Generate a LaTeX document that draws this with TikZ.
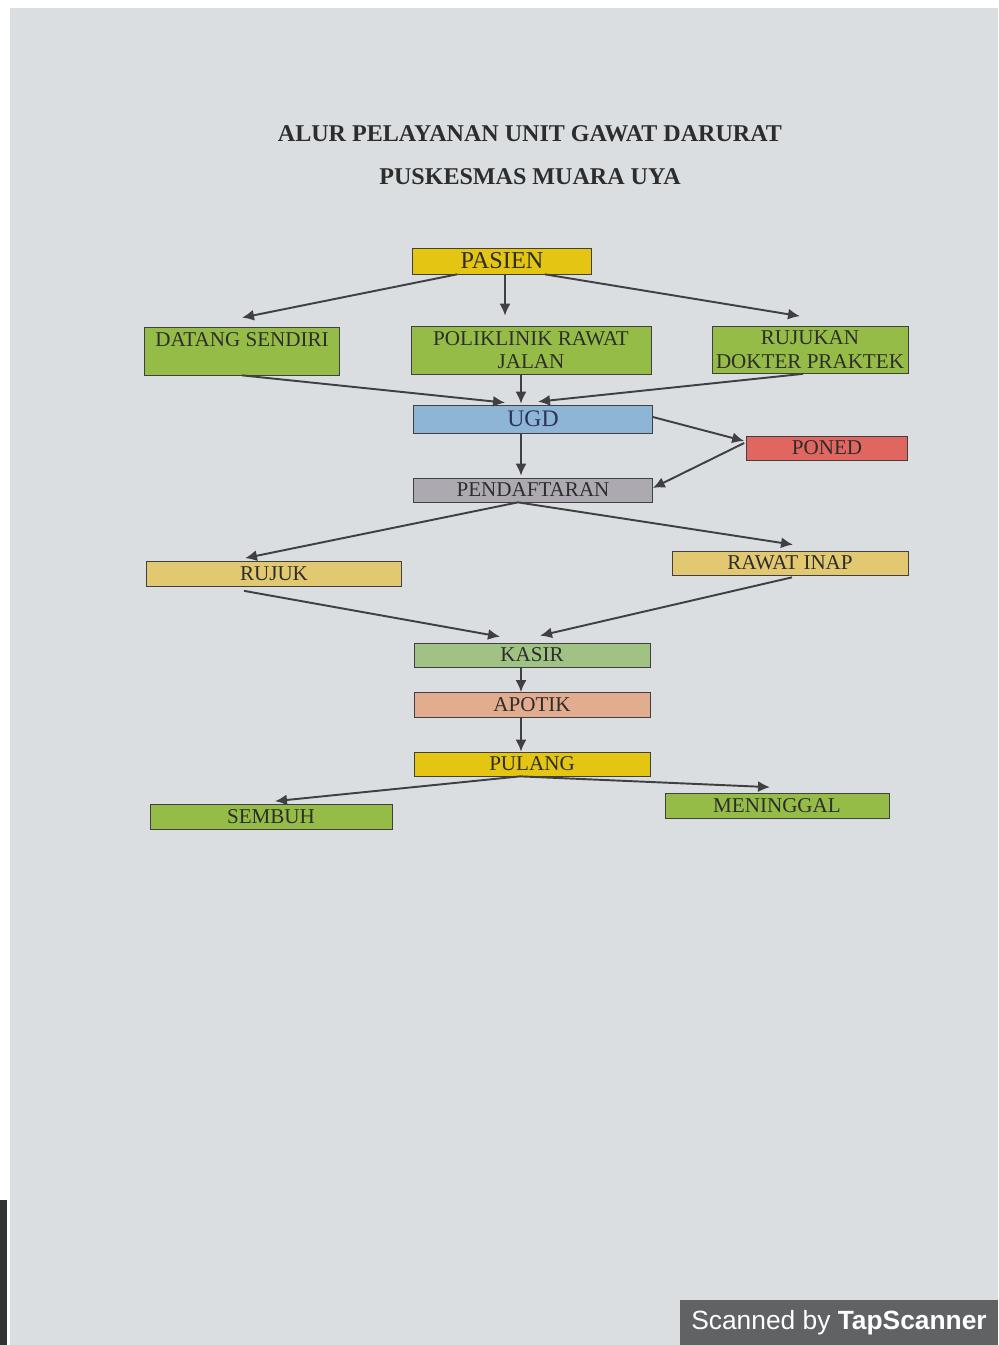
\documentclass[tikz,border=0pt]{standalone}
\usepackage{fontspec}
\setmainfont{Liberation Serif}
\setsansfont{Liberation Sans}
\usepackage{tikz}
\usetikzlibrary{arrows.meta,positioning}

\definecolor{paper}{RGB}{218,222,225}
\definecolor{ink}{RGB}{45,45,45}
\definecolor{line}{RGB}{64,64,66}
\definecolor{cyellow}{RGB}{228,198,18}
\definecolor{cgreen}{RGB}{150,188,72}
\definecolor{cblue}{RGB}{142,180,214}
\definecolor{cred}{RGB}{226,102,96}
\definecolor{cgray}{RGB}{172,170,176}
\definecolor{ctan}{RGB}{226,200,112}
\definecolor{clgreen}{RGB}{160,194,132}
\definecolor{csalmon}{RGB}{226,172,142}
\definecolor{cbanner}{RGB}{96,98,100}

\begin{document}
\begin{tikzpicture}[x=0.02cm, y=-0.02cm, align=center]
    \tikzset{
        n/.style        =   { rectangle
                            , text centered
                            , draw=line
                            , thin
                            , inner sep=0pt
                            , text=ink
                            , font=\fontsize{12}{13.5}\selectfont
                            , minimum width=4.72cm
                            , minimum height=0.48cm
        }
        , arrow/.style  =   { line width=1.1pt
                            , draw=line
                            , -{Latex[length=2.4mm,width=2.2mm]}
        }
        , title/.style  =   { font=\bfseries\fontsize{13.7}{16}\selectfont
                            , text=ink
        }
    }
    % page
    \fill[white] (0,0) rectangle (998,1345);
    \fill[paper] (10,8) rectangle (998,1345);
    \fill[black!80] (0,1200) rectangle (7,1345);
    \useasboundingbox (0,0) rectangle (998,1345);

    % title
    \node(t1)[title] at (530,134) {ALUR PELAYANAN UNIT GAWAT DARURAT};
    \node(t2)[title] at (530,177) {PUSKESMAS MUARA UYA};

    % boxes
    \node(1)[n, fill=cyellow, minimum width=3.58cm, minimum height=0.52cm
            , font=\fontsize{13.8}{15}\selectfont] at (502,261) {PASIEN};
    \node(2)[n, fill=cgreen, minimum width=3.9cm, minimum height=0.96cm] at (242,351) {DATANG SENDIRI\\ ~};
    \node(3)[n, fill=cgreen, minimum width=4.8cm, minimum height=0.96cm] at (531,350) {POLIKLINIK RAWAT\\ JALAN};
    \node(4)[n, fill=cgreen, minimum width=3.92cm, minimum height=0.94cm] at (810,350) {RUJUKAN\\ DOKTER PRAKTEK};
    \node(5)[n, fill=cblue, minimum width=4.78cm, minimum height=0.56cm
            , text={rgb,255:red,40;green,55;blue,85}
            , font=\fontsize{13.5}{15}\selectfont] at (533,419) {UGD};
    \node(6)[n, fill=cred, minimum width=3.22cm] at (827,448) {PONED};
    \node(7)[n, fill=cgray, minimum width=4.78cm] at (533,490) {PENDAFTARAN};
    \node(8)[n, fill=ctan, minimum width=5.1cm, minimum height=0.5cm] at (274,574) {RUJUK};
    \node(9)[n, fill=ctan] at (790,563) {RAWAT INAP};
    \node(10)[n, fill=clgreen] at (532,655) {KASIR};
    \node(11)[n, fill=csalmon, minimum height=0.5cm] at (532,705) {APOTIK};
    \node(12)[n, fill=cyellow] at (532,764) {PULANG};
    \node(13)[n, fill=cgreen, minimum width=4.84cm, minimum height=0.5cm] at (271,817) {SEMBUH};
    \node(14)[n, fill=cgreen, minimum width=4.48cm, minimum height=0.5cm] at (777,806) {MENINGGAL};

    % connectors
    \draw[arrow] ([xshift=-0.9cm]1.south)   -- ([yshift=0.18cm]2.north);
    \draw[arrow] ([xshift=0.06cm]1.south)   -- ([xshift=-0.52cm,yshift=0.2cm]3.north);
    \draw[arrow] ([xshift=0.86cm]1.south)   -- ([xshift=-0.2cm,yshift=0.2cm]4.north);
    \draw[arrow] (2.south)                  -- ([xshift=-0.56cm,yshift=0.04cm]5.north);
    \draw[arrow] ([xshift=-0.2cm]3.south)   -- ([xshift=-0.24cm,yshift=0.02cm]5.north);
    \draw[arrow] ([xshift=-0.14cm]4.south)  -- ([xshift=0.1cm,yshift=0.06cm]5.north);
    \draw[arrow] ([yshift=0.04cm]5.east)    -- ([xshift=-0.04cm,yshift=0.14cm]6.west);
    \draw[arrow] ([xshift=-0.04cm,yshift=0.1cm]6.west) -- ([yshift=0.04cm]7.east);
    \draw[arrow] ([xshift=-0.24cm]5.south)  -- ([xshift=-0.24cm,yshift=0.04cm]7.north);
    \draw[arrow] ([xshift=-0.3cm]7.south)   -- ([xshift=-0.58cm,yshift=0.06cm]8.north);
    \draw[arrow] ([xshift=-0.3cm]7.south)   -- ([xshift=0.06cm,yshift=0.12cm]9.north);
    \draw[arrow] ([xshift=-0.6cm,yshift=-0.08cm]8.south) -- ([xshift=-0.64cm,yshift=0.12cm]10.north);
    \draw[arrow] ([xshift=0.04cm,yshift=-0.04cm]9.south) -- ([xshift=0.16cm,yshift=0.14cm]10.north);
    \draw[arrow] ([xshift=-0.22cm]10.south) -- ([xshift=-0.22cm]11.north);
    \draw[arrow] ([xshift=-0.22cm]11.south) -- ([xshift=-0.22cm]12.north);
    \draw[arrow] ([xshift=-0.24cm]12.south) -- ([xshift=0.08cm,yshift=0.06cm]13.north);
    \draw[arrow] ([xshift=-0.24cm]12.south) -- ([xshift=-0.14cm,yshift=0.12cm]14.north);

    % scanner mark
    \node(15)[fill=cbanner, text=white, inner sep=0pt, minimum width=6.36cm, minimum height=0.9cm
             , font=\sffamily\fontsize{15}{17}\selectfont] at (839,1322.5) {Scanned by \textbf{TapScanner}};
\end{tikzpicture}
\end{document}
